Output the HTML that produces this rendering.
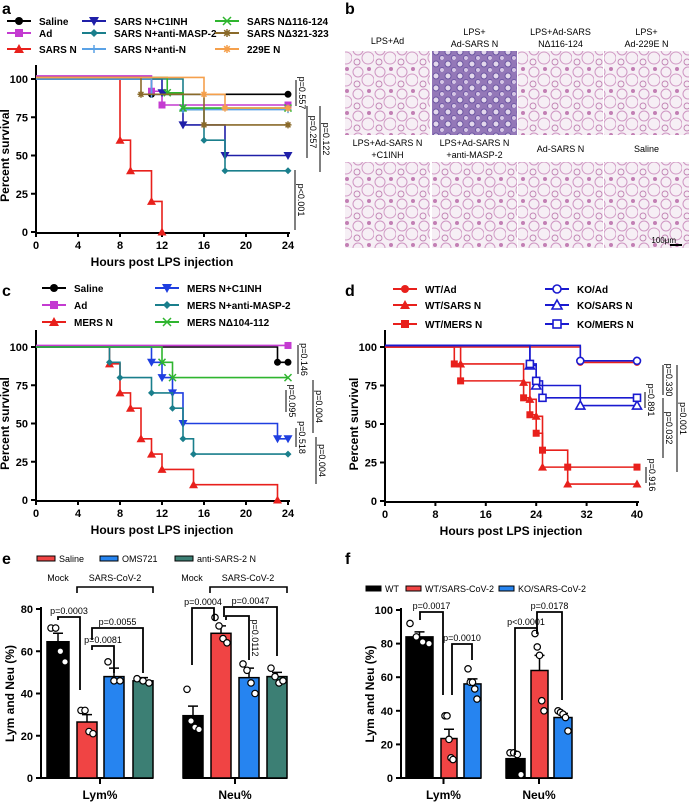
<!DOCTYPE html>
<html><head><meta charset="utf-8"><style>
body{margin:0;background:#fff}
svg{display:block;font-family:"Liberation Sans",Arial,sans-serif}
.t{font-weight:bold}
</style></head><body>
<svg id="fig" width="690" height="804" viewBox="0 0 690 804">
<defs>
<pattern id="lung" width="22" height="22" patternUnits="userSpaceOnUse">
<rect width="22" height="22" fill="#f6eff5"/>
<circle cx="6" cy="6" r="5" fill="none" stroke="#cf97c3" stroke-width="1"/>
<circle cx="16" cy="14" r="6" fill="none" stroke="#d29cc6" stroke-width="1"/>
<circle cx="5" cy="18" r="3" fill="none" stroke="#c184b4" stroke-width="0.9"/>
<circle cx="17" cy="3" r="2" fill="#c27fb4"/>
</pattern>
<pattern id="lungd" width="12" height="12" patternUnits="userSpaceOnUse">
<rect width="12" height="12" fill="#9478b8"/>
<circle cx="4" cy="4" r="3" fill="#e3d8ec" stroke="#6b55a2" stroke-width="1"/>
<circle cx="10" cy="10" r="2.5" fill="#d6c6e5" stroke="#6e58a6" stroke-width="1"/>
</pattern>
</defs>
<g id="pa"></g>
<g id="pb"></g>
<g id="pc"></g>
<g id="pd"></g>
<g id="pe"></g>
<g id="pf"></g>
</svg>
<script>
// ---------- DATA ----------
const aNames=["Saline","Ad","SARS N","SARS N+C1INH","SARS N+anti-MASP-2","SARS N+anti-N","SARS N\u0394116-124","SARS N\u0394321-323","229E N"];
const aColors=["#000","#c43bd1","#e8201c","#1f1fa8","#1a7f8c","#5aa2e6","#2fb52f","#8a6a2a","#f5a04c"];
const aMarkers=["circle","square","tri","itri","diamond","plus","x","star","star"];
const aStart=[100,102,100,100,100,100,101,101,101];
const aEvents=[
 [[11,90]],
 [[11,92],[12,83]],
 [[8,60],[9,40],[11,20],[12,0]],
 [[12,91],[14,70],[18,50]],
 [[14,80],[16,60],[18,40]],
 [[11,90],[14,80]],
 [[12.5,91],[14,81]],
 [[10,90],[16,70]],
 [[16,90],[18,81]]
];
const aEnd=[90,83,null,50,40,80,81,70,81];
const cNames=["Saline","Ad","MERS N","MERS N+C1INH","MERS N+anti-MASP-2","MERS N\u0394104-112"];
const cColors=["#000","#c43bd1","#e8201c","#1f3fe0","#1a7f8c","#2fb52f"];
const cMarkers=["circle","square","tri","itri","diamond","x"];
const cStart=[100,101,100,100,100,100];
const cEvents=[
 [[23,90]],
 [],
 [[7,89],[8,70],[9,60],[10,40],[11,30],[12,20],[15,10],[23,0]],
 [[11,90],[12,80],[13,70],[14,50],[23,40]],
 [[7,90],[8,80],[11,70],[13,60],[14,40],[15,30]],
 [[12,90],[13,80]]
];
const cEnd=[90,101,null,40,30,80];
const dNames=["WT/Ad","WT/SARS N","WT/MERS N","KO/Ad","KO/SARS N","KO/MERS N"];
const dColors=["#e8201c","#e8201c","#e8201c","#1a1ad0","#1a1ad0","#1a1ad0"];
const dMarkers=["circle","tri","square","ocircle","otri","osquare"];
const dStart=[100,100,100,101,101,101];
const dEvents=[
 [[31,90]],
 [[12,89],[22,77],[23,66],[24,55],[25,22],[29,11]],
 [[11,89],[12,78],[22,67],[23,56],[24,44],[25,33],[29,22]],
 [[31,91]],
 [[23,88],[24,75],[31,62]],
 [[23,89],[24,78],[25,67]]
];
const dEnd=[90,11,22,91,62,67];
const eGroups=["Lym%","Neu%"];
const eSeries=["Mock","Saline","OMS721","anti-SARS-2 N"];
const eColors=["#000","#f04444","#2684f0","#3c7f74"];
const eMeans=[[64.5,26.5,48,46],[29.5,68.5,47.5,48]];
const eErr=[[4,3.5,4,1.5],[4.5,3.5,4.5,2]];
const ePts=[[[71,71,60,55],[32,32,22,21],[55,46,46],[47,46,45]],[[42,27,24,23],[76,72,66,64],[54,51,45,40],[52,48,45,46]]];
const fGroups=["Lym%","Neu%"];
const fSeries=["WT","WT/SARS-CoV-2","KO/SARS-CoV-2"];
const fColors=["#000","#f04444","#2684f0"];
const fMeans=[[84,23.5,56],[11.5,64,36]];
const fErr=[[3,5.5,3],[3,9,2.5]];
const fPts=[[[92,84,81,80],[37,37,23,12,11],[65,57,57,53,47]],[[15,15,14,2],[86,78,73,46,40],[40,39,38,36,28]]];

// ---------- helpers ----------
const NS="http://www.w3.org/2000/svg";
function E(p,tag,at,txt){const e=document.createElementNS(NS,tag);for(const k in at)e.setAttribute(k,at[k]);if(txt!==undefined)e.textContent=txt;p.appendChild(e);return e;}
function T(p,x,y,s,opt){opt=opt||{};const e=E(p,"text",{x:x,y:y,"font-size":opt.fs||10,"font-weight":opt.fw||"bold","text-anchor":opt.a||"start",fill:opt.fill||"#000"},s);if(opt.rot)e.setAttribute("transform","rotate("+opt.rot+" "+x+" "+y+")");return e;}
function marker(p,type,x,y,c,s){s=s||4;let e;
 if(type=="circle")e=E(p,"circle",{cx:x,cy:y,r:s,fill:c});
 else if(type=="ocircle")e=E(p,"circle",{cx:x,cy:y,r:s,fill:"#fff",stroke:c,"stroke-width":1.6});
 else if(type=="square")e=E(p,"rect",{x:x-s,y:y-s,width:2*s,height:2*s,fill:c});
 else if(type=="osquare")e=E(p,"rect",{x:x-s,y:y-s,width:2*s,height:2*s,fill:"#fff",stroke:c,"stroke-width":1.6});
 else if(type=="tri")e=E(p,"polygon",{points:`${x},${y-s-1} ${x-s-1},${y+s} ${x+s+1},${y+s}`,fill:c});
 else if(type=="otri")e=E(p,"polygon",{points:`${x},${y-s-1} ${x-s-1},${y+s} ${x+s+1},${y+s}`,fill:"#fff",stroke:c,"stroke-width":1.6});
 else if(type=="itri")e=E(p,"polygon",{points:`${x},${y+s+1} ${x-s-1},${y-s} ${x+s+1},${y-s}`,fill:c});
 else if(type=="diamond")e=E(p,"polygon",{points:`${x},${y-s} ${x+s},${y} ${x},${y+s} ${x-s},${y}`,fill:c});
 else if(type=="plus")e=E(p,"path",{d:`M${x-s} ${y}H${x+s}M${x} ${y-s}V${y+s}`,stroke:c,"stroke-width":1.5});
 else if(type=="x")e=E(p,"path",{d:`M${x-s} ${y-s}L${x+s} ${y+s}M${x-s} ${y+s}L${x+s} ${y-s}`,stroke:c,"stroke-width":1.5});
 else e=E(p,"path",{d:`M${x-s} ${y}H${x+s}M${x} ${y-s}V${y+s}M${x-s*.7} ${y-s*.7}L${x+s*.7} ${y+s*.7}M${x-s*.7} ${y+s*.7}L${x+s*.7} ${y-s*.7}`,stroke:c,"stroke-width":1.5});
 return e;}

function survival(g,cfg){
 const X=t=>cfg.x0+(t/cfg.xmax)*(cfg.x1-cfg.x0);
 const Y=v=>cfg.y0-(v/100)*(cfg.y0-cfg.y100);
 const ax=E(g,"path",{d:`M${cfg.x0} ${cfg.ytop}V${cfg.y0+1}H${cfg.x1+2}`,fill:"none",stroke:"#000","stroke-width":2});
 
 
 [0,25,50,75,100].forEach(v=>{E(g,"line",{x1:cfg.x0-5,x2:cfg.x0,y1:Y(v),y2:Y(v),stroke:"#000","stroke-width":2});const t=T(g,cfg.x0-8,Y(v)+4,v,{fs:11,a:"end"});});
 cfg.ticks.forEach(v=>{E(g,"line",{x1:X(v),x2:X(v),y1:cfg.y0,y2:cfg.y0+5,stroke:"#000","stroke-width":2});const t=T(g,X(v),cfg.y0+17,v,{fs:11,a:"middle"});});
 const yt=T(g,cfg.x0-27,(cfg.y0+cfg.y100)/2,"Percent survival",{fs:12,a:"middle",rot:-90});
 
 const xt=T(g,(cfg.x0+cfg.x1)/2,cfg.y0+34,"Hours post LPS injection",{fs:12,a:"middle"});
 
 cfg.events.forEach((ev,i)=>{
  let d=`M${X(0)} ${Y(cfg.start[i])}`;
  ev.forEach(([t,s])=>{d+=`H${X(t)}V${Y(s)}`;});
  if(cfg.end[i]!==null)d+=`H${X(cfg.xmax)}`;
  const s=E(g,"path",{d:d,fill:"none",stroke:cfg.colors[i],"stroke-width":1.6});
  
  
  ev.forEach(([t,v])=>marker(g,cfg.markers[i],X(t),Y(v),cfg.colors[i],3.5));
  if(cfg.end[i]!==null)marker(g,cfg.markers[i],X(cfg.xmax),Y(cfg.end[i]),cfg.colors[i],3.5);
 });
 cfg.legend.forEach((L,i)=>{
  const lg=E(g,"g",{});
  
  
  E(lg,"line",{x1:L[0],x2:L[0]+24,y1:L[1],y2:L[1],stroke:cfg.colors[i],"stroke-width":2});
  marker(lg,cfg.markers[i],L[0]+12,L[1],cfg.colors[i],4);
  T(lg,L[0]+32,L[1]+4,cfg.names[i],{fs:10});
 });
 return {X,Y};
}
function pval(g,x,y1,y2,txt){
 E(g,"line",{x1:x,x2:x,y1:y1,y2:y2,stroke:"#000","stroke-width":1});
 const t=T(g,x+3,(y1+y2)/2,txt,{fs:9,fw:"normal",a:"middle",rot:90});
 
}

// ---------- panel a ----------
const pa=document.getElementById("pa");
T(pa,2,14,"a",{fs:16});
survival(pa,{x0:36,x1:288,xmax:24,y0:232,y100:79,ytop:65,ticks:[0,4,8,12,16,20,24],
 names:aNames,colors:aColors,markers:aMarkers,start:aStart,events:aEvents,end:aEnd,
 legend:[[7,21],[7,33],[7,49],[82,21],[82,33],[82,49],[215,21],[215,33],[215,49]]});
pval(pa,296,80,106,"p=0.557");pval(pa,307,106,158,"p=0.257");pval(pa,320,106,172,"p=0.122");pval(pa,295,170,230,"p<0.001");

// ---------- panel b ----------
const pb=document.getElementById("pb");
T(pb,345,14,"b",{fs:16});
const bLabels=[["LPS+Ad"],["LPS+","Ad-SARS N"],["LPS+Ad-SARS","N\u0394116-124"],["LPS+","Ad-229E N"],["LPS+Ad-SARS N","+C1INH"],["LPS+Ad-SARS N","+anti-MASP-2"],["Ad-SARS N"],["Saline"]];
const bx=[345,432,518,604],bw=85;
bLabels.forEach((lab,i)=>{
 const r=Math.floor(i/4),c=i%4;const y=r?162:51;
 const im=E(pb,"rect",{x:bx[c],y:y,width:bw,height:r?86:84,fill:i==1?"url(#lungd)":"url(#lung)"});
 
 lab.forEach((s,k)=>{const ly=lab.length==1?(r?152:44):(r?146:35)+k*12;const t=T(pb,bx[c]+bw/2,ly,s,{fs:9,fw:"normal",a:"middle"});});
});
T(pb,676,243,"100\u03bcm",{fs:8,fw:"normal",a:"end"});
E(pb,"rect",{x:670,y:244,width:12,height:2,fill:"#000"});

// ---------- panel c ----------
const pc=document.getElementById("pc");
T(pc,2,296,"c",{fs:16});
survival(pc,{x0:36,x1:288,xmax:24,y0:500,y100:347,ytop:330,ticks:[0,4,8,12,16,20,24],
 names:cNames,colors:cColors,markers:cMarkers,start:cStart,events:cEvents,end:cEnd,
 legend:[[42,288],[42,305],[42,322],[155,288],[155,305],[155,322]]});
pval(pc,298,345,374,"p=0.146");pval(pc,313,380,433,"p=0.004");pval(pc,286,390,412,"p=0.095");pval(pc,296,428,447,"p=0.518");pval(pc,316,437,484,"p=0.004");

// ---------- panel d ----------
const pd=document.getElementById("pd");
T(pd,345,296,"d",{fs:16});
survival(pd,{x0:385,x1:637,xmax:40,y0:501,y100:347,ytop:330,ticks:[0,8,16,24,32,40],
 names:dNames,colors:dColors,markers:dMarkers,start:dStart,events:dEvents,end:dEnd,
 legend:[[393,289],[393,305],[393,324],[545,289],[545,305],[545,324]]});
pval(pd,663,365,395,"p=0.330");pval(pd,645,392,408,"p=0.891");pval(pd,663,398,458,"p=0.032");pval(pd,677,365,472,"p=0.001");pval(pd,646,467,483,"p=0.916");

// ---------- bar chart helper ----------
function bars(g,cfg){
 const Y=v=>cfg.y0-(v/cfg.ymax)*(cfg.y0-cfg.ytop);
 E(g,"line",{x1:cfg.ax,x2:cfg.ax,y1:cfg.ytop-2,y2:cfg.y0+1,stroke:"#000","stroke-width":2});
 cfg.ticks.forEach(v=>{E(g,"line",{x1:cfg.ax-5,x2:cfg.ax,y1:Y(v),y2:Y(v),stroke:"#000","stroke-width":2});const t=T(g,cfg.ax-8,Y(v)+4,v,{fs:11,a:"end"});});
 const yt=T(g,cfg.ax-27,(cfg.y0+cfg.ytop)/2,"Lym and Neu (%)",{fs:12,a:"middle",rot:-90});
 
 cfg.means.forEach((gm,gi)=>{
  const xs=cfg.barX[gi];
  E(g,"line",{x1:gi?xs[0][0]:cfg.ax,x2:xs[xs.length-1][1],y1:cfg.y0,y2:cfg.y0,stroke:"#000","stroke-width":2});
  const cx=(xs[0][0]+xs[xs.length-1][1])/2;
  E(g,"line",{x1:cx,x2:cx,y1:cfg.y0,y2:cfg.y0+6,stroke:"#000","stroke-width":2});
  const gl=T(g,cx,cfg.y0+21,cfg.groups[gi],{fs:12,a:"middle"});
  
  gm.forEach((m,si)=>{
   const [a,b]=xs[si];
   const r=E(g,"rect",{x:a,y:Y(m),width:b-a,height:cfg.y0-Y(m),fill:cfg.colors[si],stroke:"#000","stroke-width":1.5});
   
   
   const mx=(a+b)/2,e=cfg.err[gi][si];
   E(g,"path",{d:`M${mx} ${Y(m)}V${Y(m+e)}M${mx-5} ${Y(m+e)}H${mx+5}`,stroke:"#000","stroke-width":1.5,fill:"none"});
   const pts=cfg.pts[gi][si];
   pts.forEach((v,k)=>{const dx=(k-(pts.length-1)/2)*((b-a-8)/Math.max(pts.length-1,1));E(g,"circle",{cx:mx+dx,cy:Y(v),r:3.2,fill:"#fff",stroke:"#000","stroke-width":1.2});});
  });
 });
 return Y;
}
function bracket(g,x1,x2,y1,y2,y,txt,rot){
 E(g,"path",{d:`M${x1} ${y1}V${y}H${x2}V${y2}`,fill:"none",stroke:"#000","stroke-width":1.8});
 if(rot){const t=T(g,x2+3,y+22,txt,{fs:9,fw:"normal",a:"middle",rot:90});}
 else{const t=T(g,(x1+x2)/2,y-3,txt,{fs:9,fw:"normal",a:"middle"});}
}

// ---------- panel e ----------
const pe=document.getElementById("pe");
T(pe,2,564,"e",{fs:16});
bars(pe,{y0:778,ytop:609,ymax:80,ax:41,ticks:[0,20,40,60,80],groups:eGroups,series:eSeries,colors:eColors,means:eMeans,err:eErr,pts:ePts,
 barX:[[[47,69],[77,97],[104,124],[133,153]],[[183,203],[211,231],[239,259],[267,287]]]});
[["Saline",1,37],["OMS721",2,100],["anti-SARS-2 N",3,175]].forEach(([s,i,x])=>{
 const lg=E(pe,"g",{});
 
 
 E(lg,"rect",{x:x,y:556,width:18,height:5,fill:eColors[i],stroke:"#000","stroke-width":1});
 T(lg,x+22,562,s,{fs:9,fw:"normal"});
});
[[58,115,77,153],[192,248,210,287]].forEach(([m,s,a,b])=>{
 T(pe,m,581,"Mock",{fs:9,fw:"normal",a:"middle"});T(pe,s,581,"SARS-CoV-2",{fs:9,fw:"normal",a:"middle"});
 E(pe,"path",{d:`M${a} 593V587H${b}V593`,fill:"none",stroke:"#000","stroke-width":1.6});
});
bracket(pe,58,80,620,690,617,"p=0.0003");
bracket(pe,92,143,640,673,628,"p=0.0055");
bracket(pe,92,114,650,673,646,"p=0.0081");
bracket(pe,192,214,665,620,608,"p=0.0004");
bracket(pe,224,277,617,656,607,"p=0.0047");
bracket(pe,226,249,620,660,616,"p=0.0112",true);

// ---------- panel f ----------
const pf=document.getElementById("pf");
T(pf,345,564,"f",{fs:16});
bars(pf,{y0:778,ytop:610,ymax:100,ax:401,ticks:[0,20,40,60,80,100],groups:fGroups,series:fSeries,colors:fColors,means:fMeans,err:fErr,pts:fPts,
 barX:[[[406,433],[441,457],[464,481]],[[506,525],[531,548],[554,572]]]});
[["WT",0,366],["WT/SARS-CoV-2",1,406],["KO/SARS-CoV-2",2,499]].forEach(([s,i,x])=>{
 const lg=E(pf,"g",{});
 
 
 E(lg,"rect",{x:x,y:586,width:15,height:5,fill:fColors[i],stroke:"#000","stroke-width":1});
 T(lg,x+19,592,s,{fs:9,fw:"normal"});
});
bracket(pf,420,443,620,695,612,"p=0.0017");
bracket(pf,452,472,695,660,644,"p=0.0010");
bracket(pf,515,537,755,632,628,"p<0.0001");
bracket(pf,537,562,634,700,612,"p=0.0178");
</script>
</body></html>
